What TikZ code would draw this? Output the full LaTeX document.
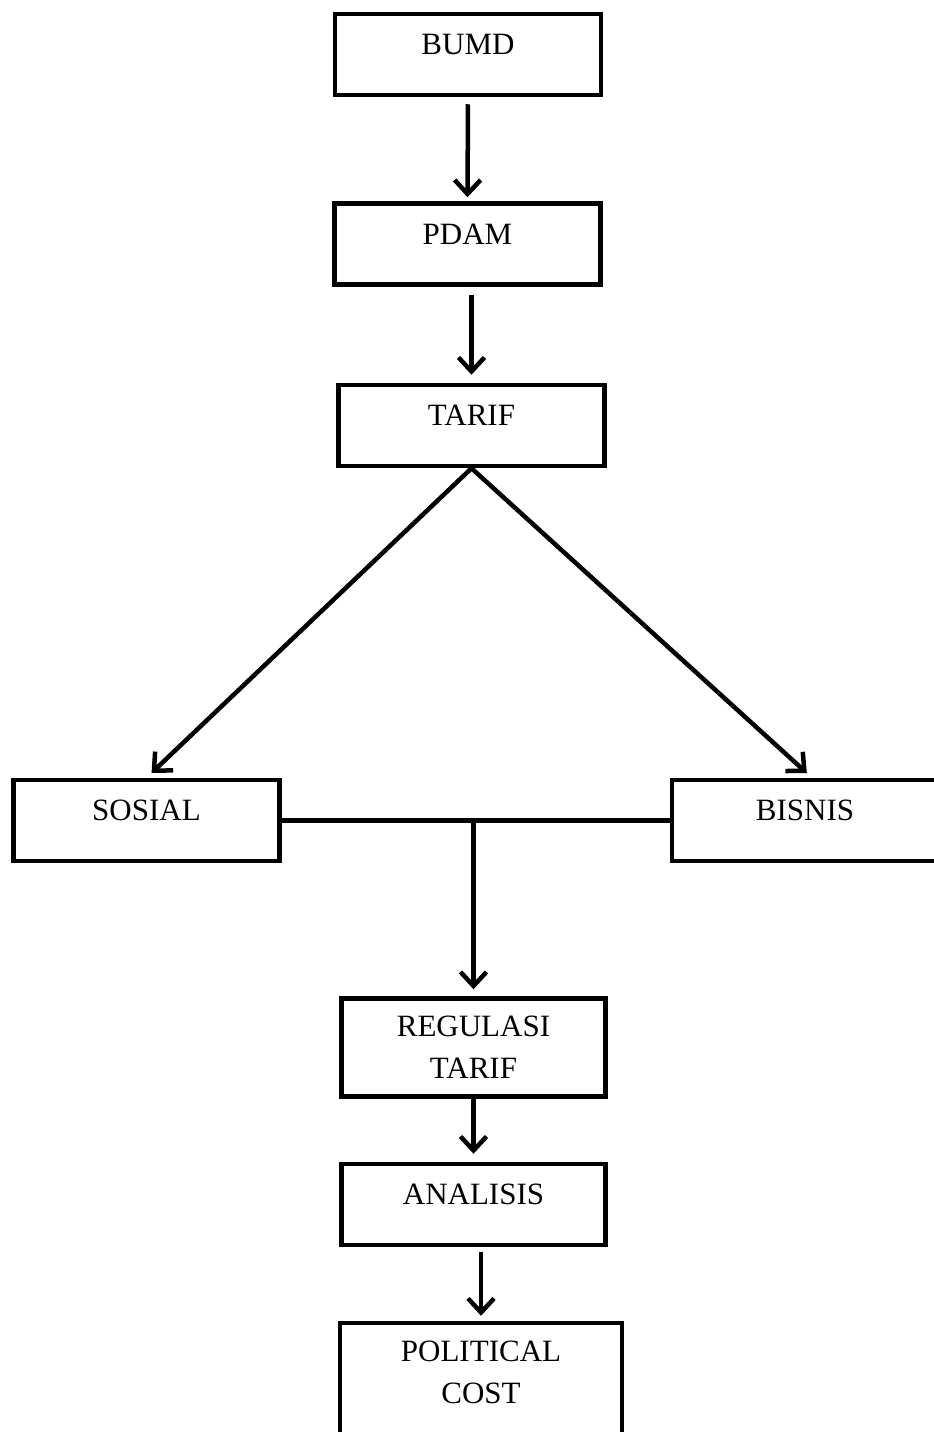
\documentclass[tikz,border=0pt]{standalone}
\usepackage{fontspec}
\setmainfont{Liberation Serif}
\usetikzlibrary{arrows.meta,calc}
\begin{document}
\begin{tikzpicture}[x=1pt,y=-1pt,
  box/.style={draw, line width=4.5pt, minimum width=266pt, minimum height=81pt,
    inner sep=0pt, font=\fontsize{31}{42}\selectfont,
    text height=12pt, text depth=12pt},
  twoline/.style={draw, line width=4.5pt, minimum width=264pt, minimum height=98pt,
    inner sep=0pt, align=center, font=\fontsize{31}{42}\selectfont},
  txt/.style={inner sep=0pt, align=center, font=\fontsize{31}{42}\selectfont},
  arr/.style={line width=4.5pt, -{Straight Barb[length=14pt,width=26pt]}},
  link/.style={line width=4.5pt}]
\useasboundingbox (0,0) rectangle (934,1432);
\clip (0,0) rectangle (934,1432);

% boxes
\node[box] (bumd) at (468,54.5) {BUMD};
\node[box] (pdam) at (467.5,244) {PDAM};
\node[box] (tarif) at (471.5,425.5) {TARIF};
\node[box] (sosial) at (146.5,820.5) {SOSIAL};
\node[box] (bisnis) at (805,820.5) {BISNIS};
\node[twoline] (regulasi) at (473.5,1047.5) {REGULASI\\TARIF};
\node[box, minimum width=264pt] (analisis) at (473.5,1204.5) {ANALISIS};
\node[draw, line width=4.5pt, minimum width=282pt, minimum height=140pt] (political) at (481,1393) {};
\node[txt] (politicaltext) at (481,1372) {POLITICAL\\COST};

% connectors
\draw[arr, shorten <=7pt, shorten >=4pt] (bumd.south) -- (pdam.north);
\draw[arr, shorten <=8pt, shorten >=8pt] (pdam.south -| tarif.north) -- (tarif.north);
\draw[arr, shorten >=7pt] (tarif.south) -- (sosial.north);
\draw[arr, shorten >=7pt] (tarif.south) -- ($(bisnis.north)+(7,0)$);
\draw[link] (sosial.east) -- (bisnis.west);
\coordinate (j) at (regulasi.north |- sosial.east);
\draw[arr, shorten >=7pt] (j) -- (regulasi.north);
\draw[arr, shorten >=8pt] (regulasi.south) -- (analisis.north);
\draw[arr, shorten <=5pt, shorten >=5pt] (analisis.south -| political.north) -- (political.north);
\end{tikzpicture}
\end{document}
